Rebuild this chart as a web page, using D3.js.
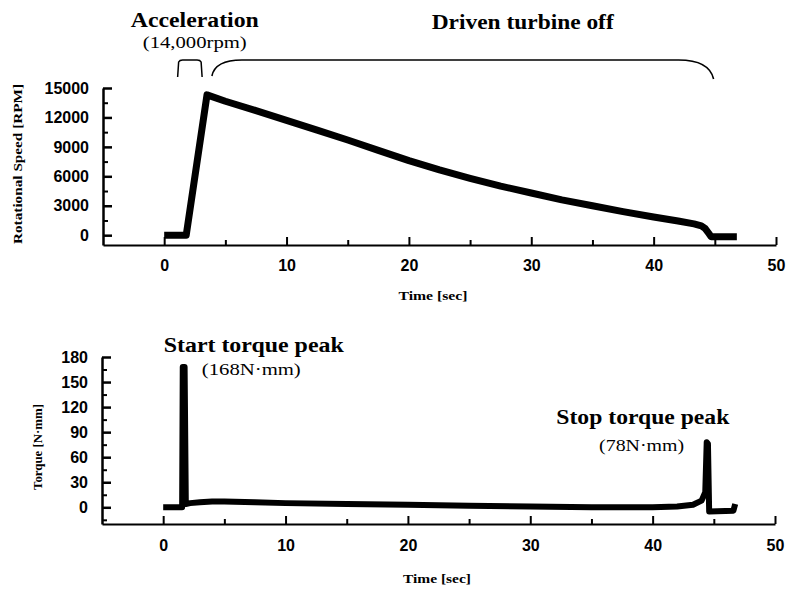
<!DOCTYPE html>
<html>
<head>
<meta charset="utf-8">
<script src="https://cdn.jsdelivr.net/npm/d3@7"></script>
<style>
  body { margin: 0; background: #fff; }
  svg { display: block; }
  .tick text { font-family: "Liberation Sans", Arial, sans-serif; font-weight: bold; font-size: 16px; fill: #000; }
  .ann { font-family: "Liberation Serif", "Times New Roman", serif; fill: #000; }
</style>
</head>
<body>
<div class="panel"></div>
<script>
// ---- data ----
const timeTicks = [0, 10, 20, 30, 40, 50];
const timeMinor = [5, 15, 25, 35, 45];

const speedTicks = [0, 3000, 6000, 9000, 12000, 15000];
const speedMinor = [1500, 4500, 7500, 10500, 13500];
const speedTime = [0, 1.8, 3.5, 5, 7.5, 10, 12.5, 15, 17.5, 20, 22.5, 25, 27.5, 30, 32.5, 35, 37.5, 40, 42, 43.3, 43.9, 44.2, 44.5, 44.7, 46.8];
const speedRpm  = [0, 0, 14300, 13650, 12700, 11700, 10700, 9700, 8650, 7600, 6650, 5800, 5000, 4300, 3600, 3000, 2400, 1850, 1450, 1150, 950, 700, 200, -150, -150];

const torqueTicks = [0, 30, 60, 90, 120, 150, 180];
const torqueMinor = [-15, 15, 45, 75, 105, 135, 165];
const torqueTime = [0, 1.55, 1.6, 1.75, 1.85, 2.2, 3, 4, 5, 7.5, 10, 15, 20, 25, 30, 35, 40, 42, 43.3, 44.0, 44.3, 44.42, 44.52, 44.62, 46.6, 46.75];
const torqueVal  = [0, 0, 168, 168, 4, 5, 6, 7, 7, 6, 5, 4, 3, 2, 1, 0, 0, 1, 3, 8, 18, 78, 76, -5, -4, 4];

const speedNotes = [
  {text: "Acceleration", t: 2.5, y: 27, size: 20, bold: true, len: 128},
  {text: "(14,000rpm)", t: 2.5, y: 48, size: 16, bold: false, len: 104},
  {text: "Driven turbine off", t: 29.3, y: 29, size: 20, bold: true, len: 182}
];
const torqueNotes = [
  {text: "Start torque peak", t: 7.4, y: 352, size: 20, bold: true, len: 180},
  {text: "(168N\u00b7mm)", t: 7.2, y: 375, size: 16, bold: false, len: 99},
  {text: "Stop torque peak", t: 39.2, y: 424, size: 20, bold: true, len: 173},
  {text: "(78N\u00b7mm)", t: 39.1, y: 451, size: 16, bold: false, len: 85}
];
const braceSpans = [[1.1, 3.1], [3.9, 44.9]];

const width = 790;
const height = 592;

const svg = d3.select(".panel")
  .append("svg")
  .attr("width", width)
  .attr("height", height);

const xScale = d3.scaleLinear().domain([-5, 50]).range([103, 776]);

function drawPanel(opts) {
  const g = svg.append("g");
  const yScale = d3.scaleLinear().domain(opts.domain).range(opts.range);
  const xs = d3.scaleLinear().domain(xScale.domain()).range(xScale.range().map(v => v + opts.dx));

  // data line
  const line = d3.line()
    .x(d => xs(d[0]))
    .y(d => yScale(d[1]));
  g.append("path")
    .datum(d3.zip(opts.times, opts.values))
    .attr("d", line)
    .attr("fill", "none")
    .attr("stroke", "#000")
    .attr("stroke-width", opts.lineWidth)
    .attr("stroke-linejoin", "round");

  // x axis
  g.append("g")
    .attr("transform", `translate(0,${opts.range[0]})`)
    .call(d3.axisBottom(xs).tickValues(timeTicks).tickSize(-8).tickSizeOuter(0).tickPadding(opts.xPad).tickFormat(d3.format("d")))
    .call(a => a.selectAll("line, path").attr("stroke", "#000").attr("stroke-width", 2));
  g.append("g")
    .attr("transform", `translate(0,${opts.range[0]})`)
    .call(d3.axisBottom(xs).tickValues(timeMinor).tickSize(-5).tickFormat(""))
    .call(a => a.select(".domain").remove())
    .call(a => a.selectAll("line").attr("stroke", "#000").attr("stroke-width", 2));

  // y axis
  g.append("g")
    .attr("transform", `translate(${xs.range()[0]},0)`)
    .call(d3.axisLeft(yScale).tickValues(opts.ticks).tickSize(-9).tickSizeOuter(0).tickPadding(14).tickFormat(d3.format("d")))
    .call(a => a.selectAll("line, path").attr("stroke", "#000").attr("stroke-width", 2.5));
  g.append("g")
    .attr("transform", `translate(${xs.range()[0]},0)`)
    .call(d3.axisLeft(yScale).tickValues(opts.minor).tickSize(-5).tickFormat(""))
    .call(a => a.select(".domain").remove())
    .call(a => a.selectAll("line").attr("stroke", "#000").attr("stroke-width", 2));

  // axis titles
  g.append("text")
    .attr("class", "ann")
    .attr("x", opts.xTitle[0]).attr("y", opts.xTitle[1])
    .attr("text-anchor", "middle")
    .attr("font-size", 13).attr("font-weight", "bold")
    .attr("textLength", opts.xTitle[2]).attr("lengthAdjust", "spacingAndGlyphs")
    .text("Time [sec]");
  g.append("text")
    .attr("class", "ann")
    .attr("transform", `translate(${opts.yTitle[0]},${opts.yTitle[1]}) rotate(-90)`)
    .attr("text-anchor", "middle")
    .attr("font-size", 13).attr("font-weight", "bold")
    .attr("textLength", opts.yTitle[2]).attr("lengthAdjust", "spacingAndGlyphs")
    .text(opts.yLabel);

  // annotations
  g.selectAll("text.note")
    .data(opts.notes)
    .join("text")
    .attr("class", "ann note")
    .attr("x", d => xs(d.t))
    .attr("y", d => d.y)
    .attr("text-anchor", "middle")
    .attr("font-size", d => d.size)
    .attr("font-weight", d => d.bold ? "bold" : "normal")
    .attr("textLength", d => d.len)
    .attr("lengthAdjust", "spacingAndGlyphs")
    .text(d => d.text);
  return g;
}

drawPanel({
  domain: [-1000, 15000], range: [245, 88], dx: 0,
  times: speedTime, values: speedRpm, lineWidth: 7,
  ticks: speedTicks, minor: speedMinor, xPad: 15,
  xTitle: [433, 300, 69], yTitle: [22, 164, 160],
  yLabel: "Rotational Speed [RPM]",
  notes: speedNotes
});

drawPanel({
  domain: [-20, 180], range: [524, 357], dx: -1,
  times: torqueTime, values: torqueVal, lineWidth: 6,
  ticks: torqueTicks, minor: torqueMinor, xPad: 16,
  xTitle: [437, 583, 68], yTitle: [42, 447, 86],
  yLabel: "Torque [N\u00b7mm]",
  notes: torqueNotes
});

// brackets over the speed plot
const [small, big] = braceSpans;
const sx0 = xScale(small[0]), sx1 = xScale(small[1]);
svg.append("path")
  .attr("d", `M${sx0},77 L${sx0 + 1},62 Q${sx0 + 2},60 ${sx0 + 5},60 L${sx1 - 5},60 Q${sx1 - 2},60 ${sx1 - 1},62 L${sx1},77`)
  .attr("fill", "none").attr("stroke", "#000").attr("stroke-width", 1.5);
const bx0 = xScale(big[0]), bx1 = xScale(big[1]);
svg.append("path")
  .attr("d", `M${bx0},76 C${bx0 + 2},66 ${bx0 + 10},60 ${bx0 + 30},60 L${bx1 - 35},60 C${bx1 - 15},60 ${bx1 - 3},66 ${bx1},79`)
  .attr("fill", "none").attr("stroke", "#000").attr("stroke-width", 1.6);
</script>
</body>
</html>
